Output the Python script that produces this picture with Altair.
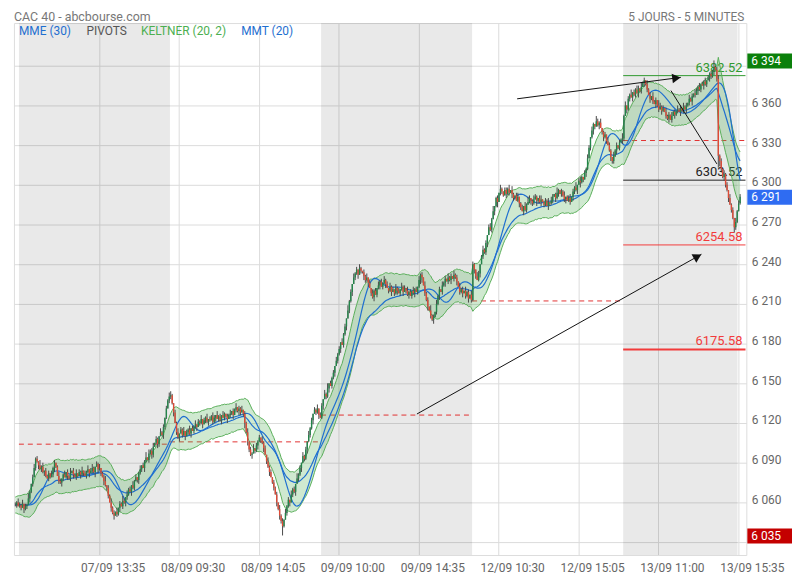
import math
import altair as alt
import pandas as pd
import numpy as np

# ---------------- data (CAC 40, 5-minute bars) ----------------
# last bars of 06/09, then sessions 07/09, 08/09, 09/09, 12/09, 13/09 (closes)
close_prev = [6058, 6060, 6057]
close_d1 = [6058, 6056, 6059, 6055, 6057, 6058,
            6063, 6068, 6074, 6079,
            6086, 6093, 6091,
            6088, 6085, 6087, 6083, 6084,
            6080, 6078, 6082, 6079, 6081,
            6086, 6090, 6087,
            6080, 6076, 6075, 6078,
            6081, 6079, 6083, 6080, 6078, 6082, 6084, 6081, 6079, 6082, 6080, 6083,
            6081, 6084, 6082, 6080, 6083, 6085, 6082, 6084, 6086, 6083,
            6087, 6089, 6085, 6086,
            6082, 6079, 6076, 6073, 6071,
            6065, 6060, 6056, 6052, 6050,
            6053, 6051,
            6056, 6059, 6057, 6061, 6060,
            6064, 6066, 6070, 6068, 6073, 6071, 6076, 6079, 6077, 6082,
            6085, 6088, 6086, 6091, 6094, 6092, 6097, 6099, 6096, 6102,
            6105, 6108, 6104, 6110, 6113, 6111, 6117,
            6124, 6131, 6137, 6140]
close_d2 = [6141, 6135, 6128, 6120, 6113, 6109,
            6112, 6115, 6111, 6114, 6110, 6113, 6115, 6112, 6116, 6114, 6117,
            6119, 6117, 6121, 6120, 6123, 6119, 6122, 6124, 6121, 6123,
            6122, 6125, 6121, 6124, 6126, 6123, 6125, 6122, 6126, 6124, 6127, 6125, 6123, 6126,
            6127, 6129, 6126, 6130, 6132, 6129, 6131, 6128, 6130, 6127,
            6120, 6113, 6106, 6100, 6096,
            6097, 6101, 6099, 6103,
            6106, 6109, 6107, 6105, 6101, 6096,
            6091, 6087, 6083, 6079, 6075, 6071, 6066,
            6060, 6055, 6050, 6046, 6042, 6047, 6052,
            6057, 6062, 6060, 6066, 6070, 6068, 6074, 6078, 6081,
            6086, 6090, 6095, 6093, 6100, 6106, 6111, 6116, 6122,
            6127, 6130, 6128, 6131,
            6126, 6124]
close_d3 = [6133, 6138, 6142, 6140, 6146, 6150, 6148, 6154, 6158, 6163, 6167,
            6172, 6176, 6181, 6179, 6187, 6193, 6199,
            6205, 6212, 6219, 6225, 6230,
            6233, 6236, 6232, 6237, 6235, 6234,
            6231, 6228, 6230, 6226, 6222,
            6218, 6215, 6220, 6217, 6222,
            6224, 6227, 6223, 6226, 6228, 6225, 6222,
            6220, 6223, 6219, 6221, 6218, 6222, 6220,
            6218, 6221, 6223, 6219, 6222, 6220, 6217,
            6219, 6216, 6220, 6218, 6221, 6219, 6223,
            6228, 6232, 6230,
            6224, 6218, 6213, 6208, 6205,
            6201, 6198, 6200, 6204,
            6210, 6216, 6221, 6219, 6224,
            6226, 6229, 6227, 6230, 6228, 6231,
            6229, 6232, 6230, 6227,
            6223, 6219, 6221, 6218, 6220,
            6216, 6219, 6214, 6217, 6213]
close_d4 = [6240, 6236, 6231, 6228, 6233,
            6240, 6246, 6251, 6249, 6256,
            6262, 6268, 6266, 6274, 6280,
            6284, 6290, 6287, 6294, 6297, 6295,
            6292, 6296, 6293, 6297, 6294, 6296, 6293,
            6290, 6292, 6288, 6291,
            6286, 6283, 6280, 6284, 6281, 6285,
            6287, 6290, 6288, 6286, 6289, 6291, 6288, 6290, 6287, 6289,
            6287, 6285, 6288, 6284, 6287, 6286, 6288,
            6291, 6293, 6290, 6294, 6296, 6293, 6295,
            6292, 6289, 6291, 6288, 6290, 6287, 6291,
            6295, 6298, 6296, 6300, 6303,
            6302, 6306, 6304, 6309, 6312,
            6320, 6328, 6336, 6341, 6346,
            6344, 6348, 6345, 6347, 6343,
            6340, 6336, 6338, 6333, 6330,
            6326, 6321, 6318, 6322,
            6326, 6330, 6328, 6332, 6334, 6335]
close_d5 = [6352, 6360, 6357, 6365, 6368,
            6366, 6370, 6368, 6372, 6369, 6373, 6371,
            6374, 6377, 6379, 6376,
            6372, 6368, 6365, 6367, 6363, 6361, 6364,
            6360, 6357, 6359, 6356, 6358, 6355, 6352,
            6350, 6353, 6349, 6352, 6355, 6353, 6356,
            6357, 6355, 6358, 6356, 6359, 6357, 6360,
            6362, 6365, 6363, 6367, 6369, 6368,
            6371, 6374, 6372, 6376, 6375, 6378, 6376, 6379,
            6381, 6384, 6382, 6386, 6389, 6387,
            6380, 6322, 6318, 6312, 6306, 6308,
            6300, 6296, 6290, 6285, 6281,
            6275, 6268,
            6272, 6280, 6286, 6291]

# upper / lower shadows (points above max(open, close) and below min(open, close)), one digit per bar
up_prev = "213"
lo_prev = "120"
up_d1 = ("2130214102" "3120413021" "2031201320" "1302140213" "0213021302"
         "3102130124" "0213120302" "1420312031" "2013021403" "1230210312" "0213")
lo_d1 = ("1203120312" "0213021310" "2102310213" "2013120302" "1031202130"
         "2140312031" "2203130213" "0213210312" "0231203102" "1320132013" "2102")
up_d2 = ("3102130213" "0213021302" "1302130213" "2031203102" "1302130213"
         "0213021302" "1203120312" "0212031203" "1203120412" "0312031202" "1302")
lo_d2 = ("2130213021" "3021302130" "2130213102" "1302130213" "0213021320"
         "2413213021" "3021302130" "1203132710" "2130213021" "3021302130" "2130")
up_d3 = ("2031402120" "3120312041" "2031203102" "1302031203" "1203120312"
         "0312031203" "1203120312" "0312041203" "1203120312" "0312031203" "1203")
lo_d3 = ("1302130213" "0213021302" "1302130213" "2130213021" "3021302130"
         "2130213021" "3021302134" "0213021302" "1302130213" "0213021302" "1302")
up_d4 = ("2103201312" "0231401203" "1022130310" "2301203142" "0132102301"
         "2130320141" "0213012302" "1402310213" "2031042130" "1203210312" "0214")
lo_d4 = ("1320130212" "3012031402" "2103120321" "0132031201" "3210421302"
         "1032120313" "0212301203" "2130412031" "0213201302" "3120132213" "1203")
up_d5 = ("1302140213" "2031203120" "3120431203" "1203120312" "0312031203"
         "2130213021" "2151231203" "1203120312" "2")
lo_d5 = ("2031203120" "3120312031" "2031203102" "1302031203" "1203120312"
         "0312031203" "2130294213" "2130214210" "1")

# x axis tick labels (every 55 bars)
tick_labels = ["07/09 13:35", "08/09 09:30", "08/09 14:05", "09/09 10:00", "09/09 14:35",
               "12/09 10:30", "12/09 15:05", "13/09 11:00", "13/09 15:35"]
tick_pos = [55, 110, 165, 220, 275, 330, 385, 440, 495]

# shaded sessions (bar index of start / end)
shade_start = [0, 208, 416]
shade_end = [104, 312, 494.7]

# daily pivot (dashed) lines
piv_start = [0, 104, 208, 312, 416]
piv_end = [104, 208, 312, 416, 500.2]
piv_value = [6104.0, 6105.75, 6126.0, 6212.25, 6333.5]

# horizontal levels of the last session
lvl_value = [6382.52, 6303.52, 6254.58, 6175.58]
lvl_text = ["6382.52", "6303.52", "6254.58", "6175.58"]
lvl_color = ["#2f9a2f", "#222222", "#f23b3b", "#f23b3b"]
lvl_width = [1, 1, 1, 2]

# drawn trend lines (bar index, price)
tl_x1 = [343.0, 448.9, 274.0]
tl_y1 = [6365.0, 6371.2, 6126.8]
tl_x2 = [455.7, 480.5, 469.9]
tl_y2 = [6381.2, 6315.8, 6247.5]
tl_head = [True, False, True]

# price badges on the right axis
badge_value = [6394, 6291, 6035]
badge_text = ["6 394", "6 291", "6 035"]
badge_color = ["#0b800b", "#2f6cf2", "#c40000"]

# ---------------- build table ----------------
closes = close_prev + close_d1 + close_d2 + close_d3 + close_d4 + close_d5
ups = up_prev + up_d1 + up_d2 + up_d3 + up_d4 + up_d5
los = lo_prev + lo_d1 + lo_d2 + lo_d3 + lo_d4 + lo_d5
n = len(closes)
idx = np.arange(-3, n - 3)
opens = [closes[0]] + closes[:-1]
highs = [max(o, c) + int(u) for o, c, u in zip(opens, closes, ups)]
lows = [min(o, c) - int(l) for o, c, l in zip(opens, closes, los)]

df = pd.DataFrame({"i": idx, "open": opens, "close": closes, "high": highs, "low": lows})
df["xc"] = df["i"] + 0.5
df["x0"] = df["i"] + 0.02
df["x1"] = df["i"] + 0.98
df["col"] = np.where(df["close"] >= df["open"], "#23854a", "#df4a36")

c = df["close"]
prev_c = c.shift(1).fillna(c.iloc[0])
tr = pd.concat([df["high"] - df["low"], (df["high"] - prev_c).abs(), (df["low"] - prev_c).abs()], axis=1).max(axis=1)
mid = c.ewm(span=20, adjust=False).mean()
atr = tr.ewm(span=20, adjust=False).mean()
df["ku"] = mid + 2 * atr
df["kl"] = mid - 2 * atr
df["mme"] = c.ewm(span=30, adjust=False).mean()
df["mmt"] = c.rolling(10, min_periods=1).mean().rolling(11, min_periods=1).mean()

W, H = 738, 536
xd = [-3.42, 500.8]
yd = [6020.25, 6422.25]
kx = W / (xd[1] - xd[0])
ky = H / (yd[1] - yd[0])
xs = alt.Scale(domain=xd, nice=False, zero=False)
ys = alt.Scale(domain=yd, nice=False, zero=False)

label_arr = "[" + ",".join("'%s'" % t for t in tick_labels) + "]"
XA = alt.Axis(values=tick_pos, labelExpr=label_arr + "[indexof(" + str(tick_pos) + ", datum.value)]",
              grid=True, gridColor="#dcdcdc", ticks=False, domain=False, labelColor="#666666",
              labelFontSize=12, labelPadding=8, labelOffset=14, labelOverlap=False, labelBound=False,
              labelFlush=False, title=None)
y_vals = list(range(6030, 6391, 30))
YA = alt.Axis(orient="right", values=y_vals,
              labelExpr="datum.value == 6030 || datum.value == 6390 ? '' : slice(toString(datum.value),0,1) + ' ' + slice(toString(datum.value),1)",
              grid=True, gridColor="#dcdcdc", ticks=False, domain=False, labelColor="#666666",
              labelFontSize=12, labelPadding=5, labelAlign="left", labelOffset=-3, labelOverlap=False,
              title=None)


def X(f):
    return alt.X(f, scale=xs, axis=XA)


def Y(f):
    return alt.Y(f, scale=ys, axis=YA)


layers = []

shade_df = pd.DataFrame({"s": shade_start, "e": shade_end})
layers.append(alt.Chart(shade_df).mark_rect(color="#000000", opacity=0.088).encode(
    x=X("s:Q"), x2="e:Q", y=alt.value(0), y2=alt.value(H)))

piv_df = pd.DataFrame({"s": piv_start, "e": piv_end, "v": piv_value})
layers.append(alt.Chart(piv_df).mark_rule(color="#e23232", strokeDash=[5, 4], strokeWidth=1).encode(
    x=X("s:Q"), x2="e:Q", y=Y("v:Q")))

lvl_df = pd.DataFrame({"v": lvl_value, "t": lvl_text, "c": lvl_color, "w": lvl_width,
                       "s": [416] * len(lvl_value), "e": [500.2] * len(lvl_value)})
layers.append(alt.Chart(lvl_df).mark_rule().encode(
    x=X("s:Q"), x2="e:Q", y=Y("v:Q"),
    color=alt.Color("c:N", scale=None), strokeWidth=alt.StrokeWidth("w:Q", scale=None)))
layers.append(alt.Chart(lvl_df).mark_text(align="right", baseline="bottom", dy=-1, fontSize=13).encode(
    x=alt.value(734), y=Y("v:Q"), text="t:N",
    color=alt.Color("c:N", scale=None)))

base = alt.Chart(df)
layers.append(base.mark_area(color="#4caf50", opacity=0.27).encode(
    x=X("xc:Q"), y=Y("kl:Q"), y2="ku:Q"))
for f in ["ku", "kl"]:
    layers.append(base.mark_line(color="#5aae5a", strokeWidth=1).encode(x=X("xc:Q"), y=Y(f + ":Q")))
for f in ["mme", "mmt"]:
    layers.append(base.mark_line(color="#1f6fd0", strokeWidth=1.2).encode(x=X("xc:Q"), y=Y(f + ":Q")))

layers.append(base.mark_rule(color="#4a4a4a", strokeWidth=1).encode(
    x=X("xc:Q"), y=Y("low:Q"), y2="high:Q"))
layers.append(base.mark_rect().encode(
    x=X("x0:Q"), x2="x1:Q", y=Y("open:Q"), y2="close:Q",
    color=alt.Color("col:N", scale=None)))

tl_df = pd.DataFrame({"x1": tl_x1, "y1": tl_y1, "x2": tl_x2, "y2": tl_y2})
layers.append(alt.Chart(tl_df).mark_rule(color="#111111", strokeWidth=1).encode(
    x=X("x1:Q"), y=Y("y1:Q"), x2="x2:Q", y2="y2:Q"))

# arrow heads
hx, hy, ha = [], [], []
for x1, y1, x2, y2, h in zip(tl_x1, tl_y1, tl_x2, tl_y2, tl_head):
    if not h:
        continue
    dxp = (x2 - x1) * kx
    dyp = -(y2 - y1) * ky
    th = math.atan2(dyp, dxp)
    hx.append(x2 - 4.5 * math.cos(th) / kx)
    hy.append(y2 + 4.5 * math.sin(th) / ky)
    ha.append(math.degrees(th) % 360)
head_df = pd.DataFrame({"x": hx, "y": hy, "a": ha})
layers.append(alt.Chart(head_df).mark_point(shape="triangle-right", filled=True, color="#111111",
                                             size=95, opacity=1).encode(
    x=X("x:Q"), y=Y("y:Q"), angle=alt.Angle("a:Q", scale=None)))

# badges
bd = pd.DataFrame({"v": badge_value, "t": badge_text, "c": badge_color})
layers.append(alt.Chart(bd).mark_rect(yOffset=-7, y2Offset=8).encode(
    x=alt.value(739), x2=alt.value(786), y=Y("v:Q"), y2="v:Q",
    color=alt.Color("c:N", scale=None)))
layers.append(alt.Chart(bd).mark_text(align="left", baseline="middle", fontSize=12, color="white", dy=0.5).encode(
    x=alt.value(743), y=Y("v:Q"), text="t:N"))


def label(txt, x, y, color, align="left", size=12):
    return alt.Chart(pd.DataFrame({"t": [txt]})).mark_text(
        align=align, baseline="middle", fontSize=size, color=color).encode(
        x=alt.value(x), y=alt.value(y), text="t:N")


layers.append(label("MME (30)", 5, 8, "#1f6fd0"))
layers.append(label("PIVOTS", 73, 8, "#555555"))
layers.append(label("KELTNER (20, 2)", 128, 8, "#4caf50"))
layers.append(label("MMT (20)", 229, 8, "#1f6fd0"))
layers.append(label("CAC 40 - abcbourse.com", 0, -6, "#777777", size=12.5))
layers.append(label("5 JOURS - 5 MINUTES", 736, -6, "#777777", align="right"))

chart = alt.layer(*layers).properties(
    width=W, height=H,
    autosize=alt.AutoSizeParams(type="none"),
    padding={"left": 6, "top": 13, "right": 46, "bottom": 21},
    background="white",
).configure_view(stroke="#d4d4d4", strokeWidth=1).configure(font="Roboto")

chart.save("out.html", embed_options={"renderer": "svg", "actions": False})
